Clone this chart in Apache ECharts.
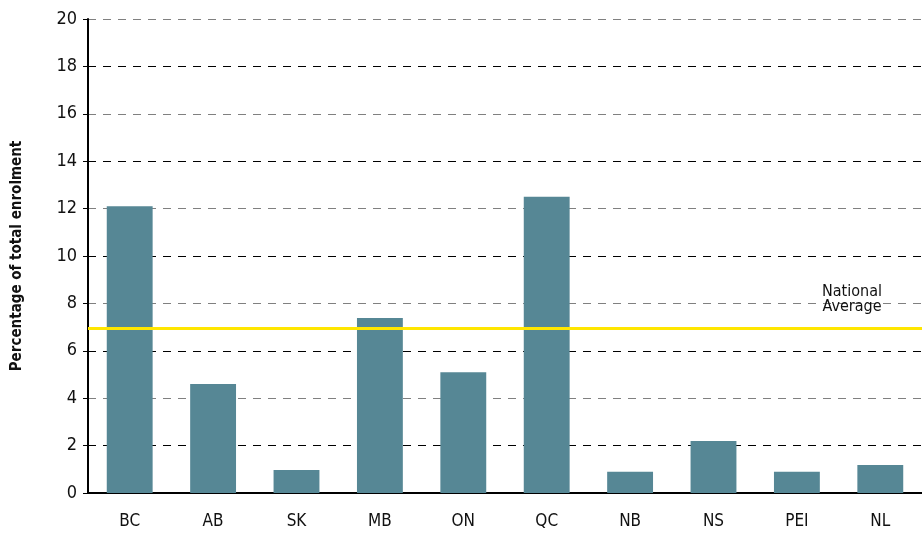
<!DOCTYPE html>
<html>
<head>
<meta charset="utf-8">
<script src="https://cdn.jsdelivr.net/npm/echarts@6/dist/echarts.min.js"></script>
<style>html,body{margin:0;padding:0;background:#fff}#c{width:922px;height:533px}</style>
</head>
<body>
<div id="c"></div>
<script>
const categories = ['BC','AB','SK','MB','ON','QC','NB','NS','PEI','NL'];
const values = [12.1, 4.6, 0.97, 7.38, 5.1, 12.5, 0.9, 2.19, 0.9, 1.18];
const nationalAverage = 6.95;
const yTicks = {min: 0, max: 20, interval: 2};
const yTitle = 'Percentage of total enrolment';
const avgLabelLines = ['National', 'Average'];

const FONT = '"Liberation Sans Narrow", "DejaVu Sans Condensed", sans-serif';
const chart = echarts.init(document.getElementById('c'), null, {renderer: 'canvas'});
chart.setOption({
  animation: false,
  backgroundColor: '#fff',
  grid: {left: 88, right: 0, top: 19, bottom: 40, containLabel: false},
  xAxis: {
    type: 'category',
    data: categories,
    axisLine: {lineStyle: {color: '#000', width: 2}},
    axisTick: {show: false},
    axisLabel: {color: '#111', fontFamily: FONT, fontSize: 17, margin: 20}
  },
  yAxis: {
    type: 'value',
    min: yTicks.min, max: yTicks.max, interval: yTicks.interval,
    name: yTitle,
    nameLocation: 'middle',
    nameGap: 63,
    nameTextStyle: {color: '#111', fontFamily: FONT, fontSize: 15, fontWeight: 'bold'},
    axisLine: {show: true, lineStyle: {color: '#000', width: 2}},
    axisTick: {show: true, length: 5, lineStyle: {color: '#000', width: 1}},
    axisLabel: {color: '#111', fontFamily: FONT, fontSize: 18, margin: 11},
    splitLine: {show: true, lineStyle: {color: ['#808080', '#000'], width: 1, type: [8, 7]}}
  },
  series: [{
    type: 'bar',
    data: values,
    barWidth: '55%',
    itemStyle: {color: '#568795'},
    markLine: {
      silent: true,
      symbol: ['none', 'none'],
      lineStyle: {color: '#FFE600', width: 3, type: 'solid'},
      label: {
        show: true,
        position: 'insideEndTop',
        formatter: avgLabelLines.map(s => '{a|' + s + '}').join('\n'),
        rich: {a: {width: 72, align: 'center', color: '#111', fontFamily: FONT, fontSize: 16, lineHeight: 15}},
        distance: [34, 14]
      },
      data: [{yAxis: nationalAverage}]
    }
  }]
});
</script>
</body>
</html>
